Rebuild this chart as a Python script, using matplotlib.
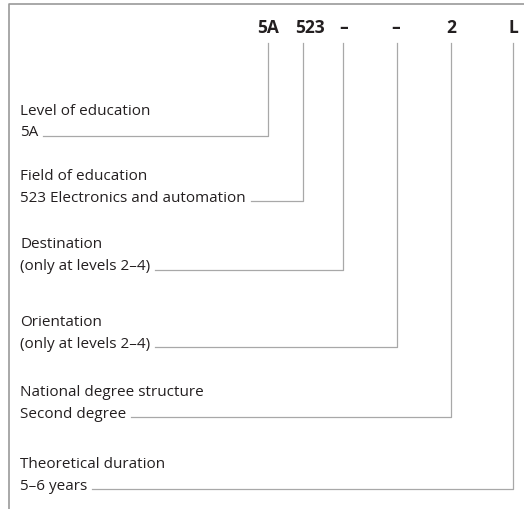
import matplotlib.pyplot as plt

# code parts shown on top, and what each one means
codes = ['5A', '523', '–', '–', '2', 'L']
titles = ['Level of education', 'Field of education', 'Destination',
          'Orientation', 'National degree structure', 'Theoretical duration']
values = ['5A', '523 Electronics and automation', '(only at levels 2–4)',
          '(only at levels 2–4)', 'Second degree', '5–6 years']

# layout (pixels)
code_x = [268, 303, 343, 397, 451, 513]
code_lbl_x = [268, 310, 344, 396, 451, 513]
title_y = [111, 176, 245, 322, 392, 464]
line_gap = 22

plt.rcParams['font.family'] = ['Open Sans', 'DejaVu Sans']

fig = plt.figure(figsize=(5.24, 5.09), dpi=100)
ax = fig.add_axes([0, 0, 1, 1])
ax.set_xlim(0, 524)
ax.set_ylim(509, 0)
ax.axis('off')

# frame (cut at right and bottom)
ax.plot([9, 9, 530], [515, 4, 4], color='#9a9a9a', lw=1.2)

line_col = '#a8a8a8'
txt_col = '#231f20'
for i, c in enumerate(codes):
    ax.text(code_lbl_x[i], 28, c, ha='center', va='center', fontsize=12.5,
            fontweight='bold', color=txt_col)
    ax.text(20, title_y[i], titles[i], ha='left', va='center', fontsize=11,
            color=txt_col)
    t = ax.text(20, title_y[i] + line_gap, values[i], ha='left', va='center',
                fontsize=11, color=txt_col)
    y_end = title_y[i] + line_gap + 3
    fig.canvas.draw()
    bb = t.get_window_extent()
    x_start = bb.x1 + 5
    ax.plot([x_start, code_x[i], code_x[i]], [y_end, y_end, 43],
            color=line_col, lw=0.9)

fig.savefig('out.png', dpi=100)
